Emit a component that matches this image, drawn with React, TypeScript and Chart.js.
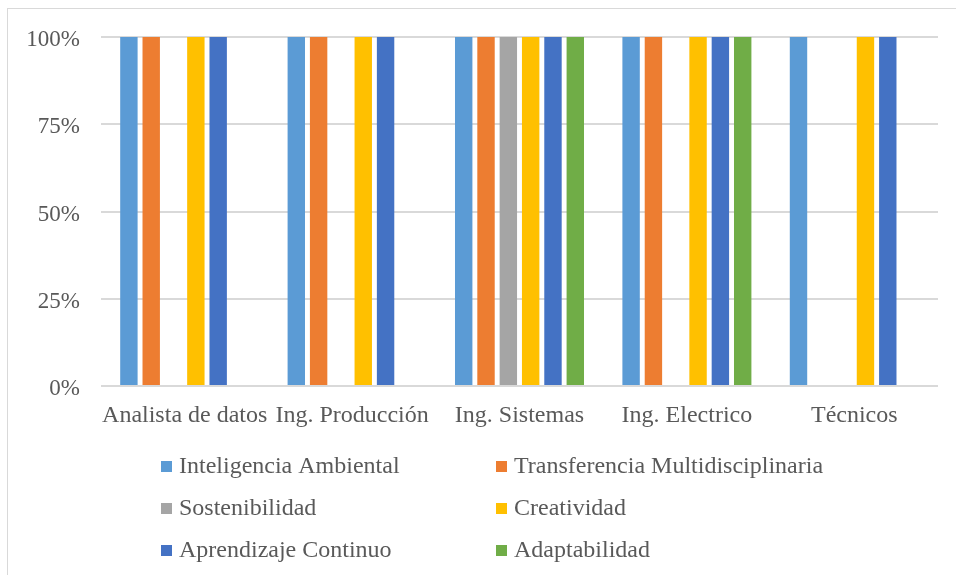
import React, { useEffect, useRef } from "react";
import { Chart, registerables } from "chart.js";

Chart.register(...registerables);

const categories = ["Analista de datos", "Ing. Producción", "Ing. Sistemas", "Ing. Electrico", "Técnicos"];

const seriesNames = [
  "Inteligencia Ambiental",
  "Transferencia Multidisciplinaria",
  "Sostenibilidad",
  "Creatividad",
  "Aprendizaje Continuo",
  "Adaptabilidad",
];

const seriesColors = ["#5b9bd5", "#ed7d31", "#a5a5a5", "#ffc000", "#4472c4", "#70ad47"];

// Percent per profile; null = no bar for that profile
const inteligenciaAmbiental = [100, 100, 100, 100, 100];
const transferenciaMultidisciplinaria = [100, 100, 100, 100, null];
const sostenibilidad = [null, null, 100, null, null];
const creatividad = [100, 100, 100, 100, 100];
const aprendizajeContinuo = [100, 100, 100, 100, 100];
const adaptabilidad = [null, null, 100, 100, null];

const yTicks = [0, 25, 50, 75, 100];

const seriesValues = [
  inteligenciaAmbiental,
  transferenciaMultidisciplinaria,
  sostenibilidad,
  creatividad,
  aprendizajeContinuo,
  adaptabilidad,
];

const FONT = "'Liberation Serif', 'Times New Roman', serif";
const TEXT = "#595959";

// Two-column legend below the plot
const gridLegend = {
  id: "gridLegend",
  afterDraw(chart: any) {
    const ctx = chart.ctx;
    const colX = [161, 496];
    const rowY = [467, 509, 551];
    ctx.save();
    ctx.font = `24px ${FONT}`;
    ctx.textBaseline = "middle";
    ctx.textAlign = "left";
    chart.data.datasets.forEach((ds: any, i: number) => {
      const x = colX[i % 2];
      const y = rowY[Math.floor(i / 2)];
      ctx.fillStyle = ds.backgroundColor;
      ctx.fillRect(x, y - 6, 11, 11);
      ctx.fillStyle = TEXT;
      ctx.fillText(ds.label, x + 18, y);
    });
    ctx.restore();
  },
};

export default function App() {
  const ref = useRef<HTMLCanvasElement>(null);

  useEffect(() => {
    if (!ref.current) return;
    const chart = new Chart(ref.current, {
      type: "bar",
      data: {
        labels: categories,
        datasets: seriesNames.map((name, i) => ({
          label: name,
          data: seriesValues[i],
          backgroundColor: seriesColors[i],
          borderWidth: 0,
          categoryPercentage: 0.8,
          barPercentage: 0.78,
        })),
      },
      options: {
        responsive: false,
        animation: false,
        layout: { padding: { top: 37, right: 18, bottom: 0, left: 0 } },
        plugins: {
          legend: { display: false },
          tooltip: { enabled: false },
        },
        scales: {
          x: {
            grid: { display: false, drawTicks: false },
            border: { display: false },
            ticks: {
              color: TEXT,
              font: { family: FONT, size: 24 },
              padding: 15,
              maxRotation: 0,
              autoSkip: false,
            },
            afterFit: (s: any) => {
              s.height = 189;
            },
          },
          y: {
            min: 0,
            max: 100,
            grid: { color: "#d9d9d9", lineWidth: 2, drawTicks: false },
            border: { display: false },
            afterBuildTicks: (s: any) => {
              s.ticks = yTicks.map((v) => ({ value: v }));
            },
            ticks: {
              color: TEXT,
              font: { family: FONT, size: 23 },
              padding: 21,
              labelOffset: 3,
              callback: (v: any) => `${v}%`,
            },
            afterFit: (s: any) => {
              s.width = 101;
            },
          },
        },
      },
      plugins: [gridLegend],
    });
    return () => chart.destroy();
  }, []);

  return (
    <div style={{ position: "fixed", left: 0, top: 0, width: 956, height: 575, background: "#fff", overflow: "hidden" }}>
      <div
        style={{
          position: "absolute",
          left: 7,
          top: 8,
          width: 980,
          height: 600,
          border: "1.5px solid #d9d9d9",
        }}
      />
      <canvas ref={ref} width={956} height={575} style={{ position: "absolute", left: 0, top: 0 }} />
    </div>
  );
}
